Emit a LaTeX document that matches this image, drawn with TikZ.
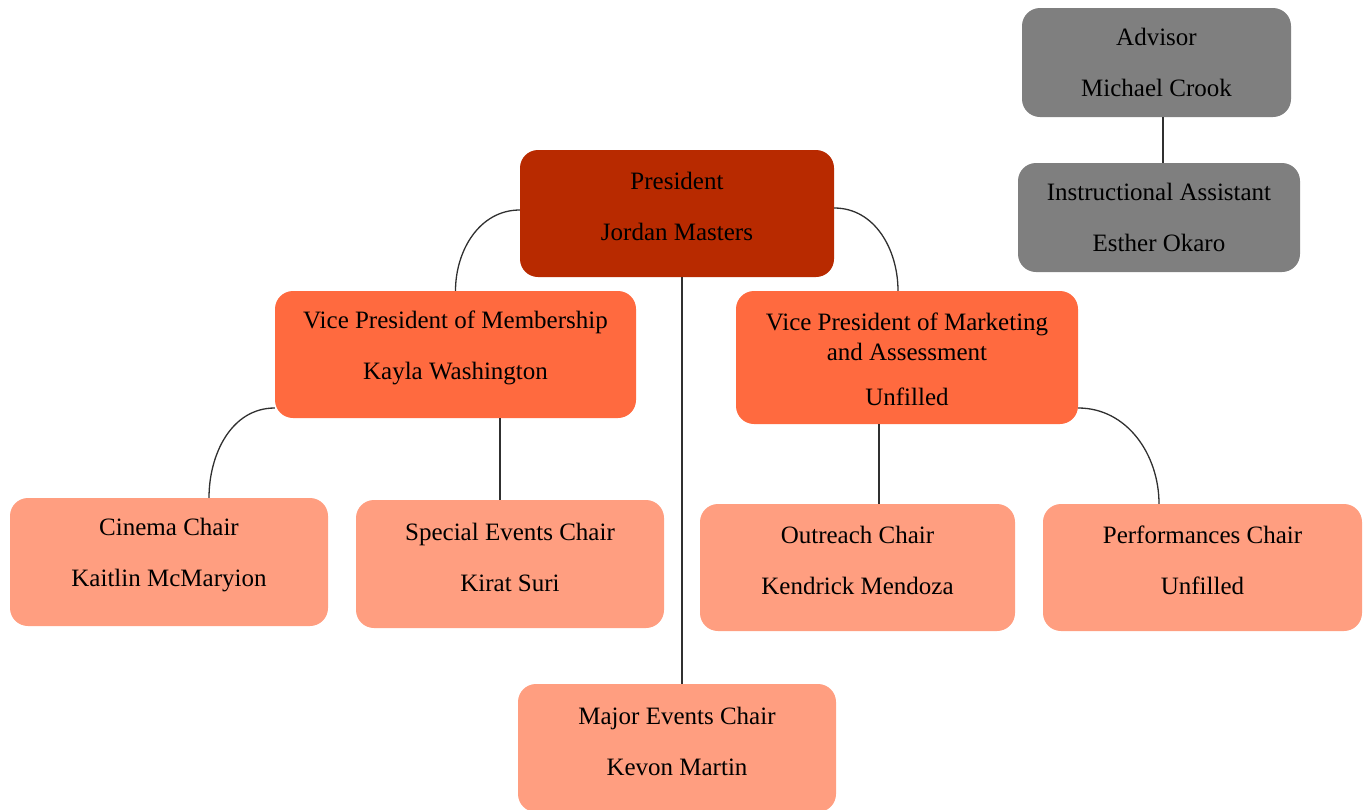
\documentclass[tikz,border=0pt]{standalone}
\usepackage{fontspec}
\setmainfont{Liberation Serif}
\definecolor{presred}{HTML}{B82A00}
\definecolor{vporange}{HTML}{FF6A3F}
\definecolor{chairpink}{HTML}{FF9E80}
\definecolor{advgray}{HTML}{7F7F7F}
\definecolor{linegray}{HTML}{303030}
\begin{document}
\begin{tikzpicture}[x=1pt,y=1pt,
  box/.style={rectangle, rounded corners=18pt, draw=none, inner sep=0pt},
  txt/.style={align=center, inner sep=0pt, font=\fontsize{25}{30}\selectfont, text=black},
  presbox/.style={box, fill=presred},
  vpbox/.style={box, fill=vporange},
  chairbox/.style={box, fill=chairpink},
  graybox/.style={box, fill=advgray},
  link/.style={draw=linegray, line width=1.3pt}]
\useasboundingbox (0,0) rectangle (1367,-809);
\begin{scope}
\clip (0,0) rectangle (1367,-809);
\node[graybox, minimum width=269, minimum height=109,
  label={[txt]center:{Advisor\\[21pt]Michael Crook}}] (adv) at (1156.5,-62.5) {};
\node[graybox, minimum width=282, minimum height=109,
  label={[txt]center:{Instructional Assistant\\[21pt]Esther Okaro}}] (ia) at (1159,-217.5) {};
\node[presbox, minimum width=314, minimum height=127,
  label={[txt, yshift=7pt]center:{President\\[21pt]Jordan Masters}}] (pres) at (677,-213.5) {};
\node[vpbox, minimum width=361, minimum height=127,
  label={[txt, yshift=7pt]center:{Vice President of Membership\\[21pt]Kayla Washington}}] (vpm) at (455.5,-354.5) {};
\node[vpbox, minimum width=342, minimum height=133,
  label={[txt, yshift=-2pt]center:{Vice President of Marketing\\and Assessment\\[15pt]Unfilled}}] (vpk) at (907,-357.5) {};
\node[chairbox, minimum width=318, minimum height=128,
  label={[txt, yshift=7pt]center:{Cinema Chair\\[21pt]Kaitlin McMaryion}}] (cin) at (169,-562) {};
\node[chairbox, minimum width=308, minimum height=128,
  label={[txt, yshift=7pt]center:{Special Events Chair\\[21pt]Kirat Suri}}] (spe) at (510,-564) {};
\node[chairbox, minimum width=315, minimum height=127,
  label={[txt, yshift=7pt]center:{Outreach Chair\\[21pt]Kendrick Mendoza}}] (out) at (857.5,-567.5) {};
\node[chairbox, minimum width=319, minimum height=127,
  label={[txt, yshift=7pt]center:{Performances Chair\\[21pt]Unfilled}}] (per) at (1202.5,-567.5) {};
\node[chairbox, minimum width=318, minimum height=128,
  label={[txt, yshift=7pt]center:{Major Events Chair\\[21pt]Kevon Martin}}] (maj) at (677,-748) {};
\end{scope}
\draw[link] ([xshift=6.5pt]adv.south) -- ([xshift=4pt]ia.north);
\draw[link] ([xshift=5pt]pres.south) -- ([xshift=5pt]maj.north);
\draw[link] ([yshift=3.5pt]pres.west) to[out=180,in=90] (vpm.north);
\draw[link] ([yshift=5.5pt]pres.east) to[out=0,in=90] ([xshift=-9pt]vpk.north);
\draw[link] ([xshift=-10pt]spe.north |- vpm.south) -- ([xshift=-10pt]spe.north);
\draw[link] ([xshift=21.5pt]out.north |- vpk.south) -- ([xshift=21.5pt]out.north);
\draw[link] ([yshift=-53.5pt]vpm.west) to[out=180,in=90] ([xshift=40pt]cin.north);
\draw[link] ([yshift=-50.5pt]vpk.east) to[out=0,in=90] ([xshift=-43.5pt]per.north);
\end{tikzpicture}
\end{document}
